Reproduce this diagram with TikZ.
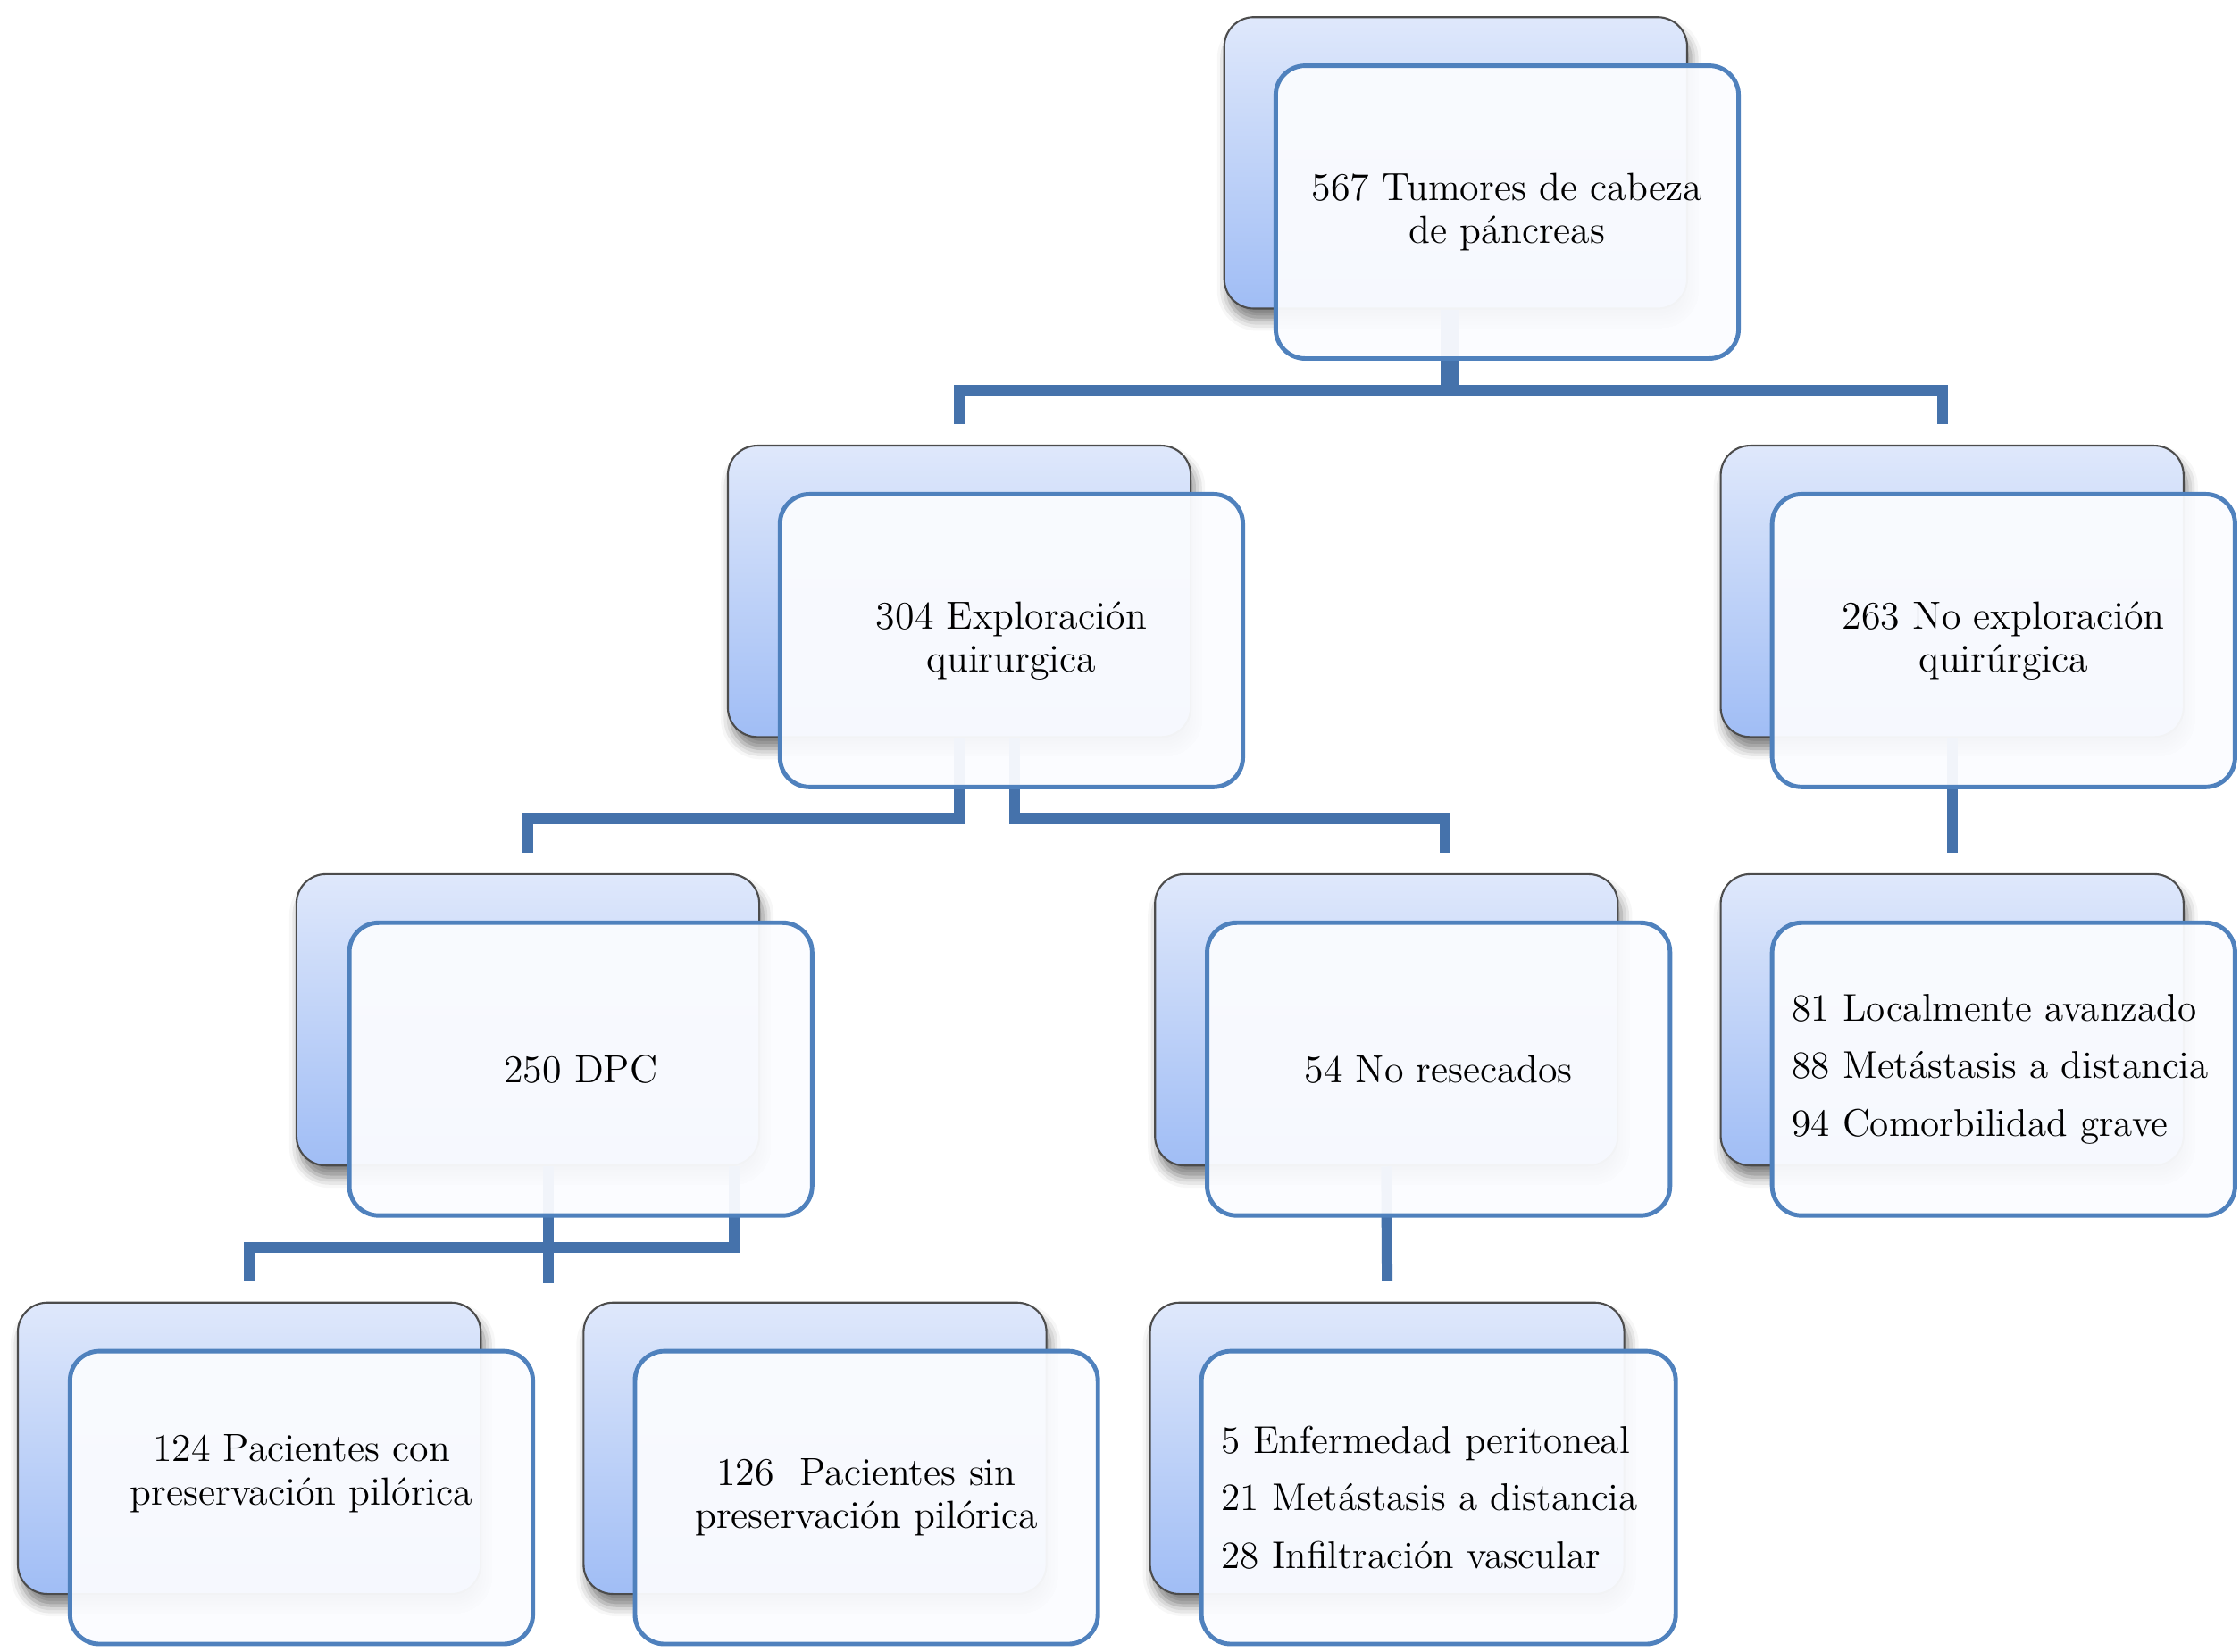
\documentclass[tikz,border=0pt]{standalone}
\usepackage{fontspec}
\usetikzlibrary{positioning, calc, shadows.blur}
\definecolor{barblue}{HTML}{4572AB}
\definecolor{edgeblue}{HTML}{4F81BD}
\definecolor{toplight}{HTML}{DFE8FB}
\definecolor{bottomdark}{HTML}{A0BDF5}
\definecolor{frontfill}{HTML}{FBFCFF}
\tikzset{
  backbox/.style={draw=black!70, line width=0.6pt, rounded corners=3.3mm,
    minimum width=5.184cm, minimum height=3.264cm,
    top color=toplight, bottom color=bottomdark,
    blur shadow={shadow xshift=0.4mm, shadow yshift=-1.3mm,
      shadow blur radius=1.2mm, shadow opacity=50}},
  frontbox/.style={draw=edgeblue, line width=1.4pt, rounded corners=3.3mm,
    minimum width=5.184cm, minimum height=3.28cm,
    fill=frontfill, fill opacity=0.95, text opacity=1,
    align=center, font=\fontsize{12.5}{13.7}\selectfont},
  listbox/.style={frontbox, align=left, inner xsep=0pt, text width=4.736cm,
    font=\fontsize{12.3}{18.4}\selectfont},
  bar/.style={draw=barblue, line width=1.2mm}
}

\begin{document}
\begin{tikzpicture}[x=0.16mm, y=-0.16mm]
    \useasboundingbox (0,0) rectangle (1568,1156);

    % Back boxes
    \node[backbox] (topb) at (1019,114) {};
    \node[backbox] (e304b) at (671.5,414) {};
    \node[backbox] (e263b) at (1366.5,414) {};
    \node[backbox] (dpcb) at (369.5,714) {};
    \node[backbox] (noresb) at (970.5,714) {};
    \node[backbox] (l263b) at (1366.5,714) {};
    \node[backbox] (p124b) at (174.5,1014) {};
    \node[backbox] (p126b) at (570.5,1014) {};
    \node[backbox, minimum width=5.312cm] (l54b) at (971,1014) {};

    % Connectors
    \draw[bar] ($(topb.south)+(-7,0)$) -- ++(0,56.5) -| ($(e304b.north)+(0,-14.5)$);
    \draw[bar] ($(topb.south)+(-1,0)$) -- ++(0,56.5) -| ($(e263b.north)+(-7,-14.5)$);
    \draw[bar] (e304b.south) -- ++(0,56.5) -| ($(dpcb.north)+(0,-14.5)$);
    \draw[bar] ($(e304b.south)+(38.5,0)$) -- ++(0,56.5) -| ($(noresb.north)+(41,-14.5)$);
    \draw[bar] (e263b.south) -- ($(l263b.north)+(0,-14.5)$);
    \draw[bar] ($(dpcb.south)+(14.5,0)$) -- ++(0,56.5) -| ($(p124b.north)+(0,-14.5)$);
    \draw[bar] ($(dpcb.south)+(144.5,0)$) -- ++(0,56.5) -| ($(dpcb.south)+(14.5,81.5)$);
    \draw[bar] (noresb.south) -- ($(l54b.north)+(0,-14.5)$);

    % Front boxes
    \node[frontbox] (top) at (1055,148.5) {567 Tumores de cabeza\\de páncreas};
    \node[frontbox] (e304) at (708,448.5) {304 Exploración\\quirurgica};
    \node[frontbox] (e263) at (1402.5,448.5) {263 No exploración\\quirúrgica};
    \node[frontbox] (dpc) at (406.5,748.5) {250 DPC};
    \node[frontbox] (nores) at (1007,748.5) {54 No resecados};
    \node[listbox] (l263) at (1402.5,748.5)
        {81 Localmente avanzado\\88 Metástasis a distancia\\94 Comorbilidad grave};
    \node[frontbox] (p124) at (211,1048.5) {124 Pacientes con\\preservación pilórica\\[4pt]\mbox{}};
    \node[frontbox] (p126) at (606.5,1048.5) {126\ \ Pacientes sin\\preservación pilórica};
    \node[listbox, minimum width=5.312cm, text width=4.864cm] (l54) at (1007,1048.5)
        {5 Enfermedad peritoneal\\21 Metástasis a distancia\\28 Infiltración vascular};

\end{tikzpicture}
\end{document}
